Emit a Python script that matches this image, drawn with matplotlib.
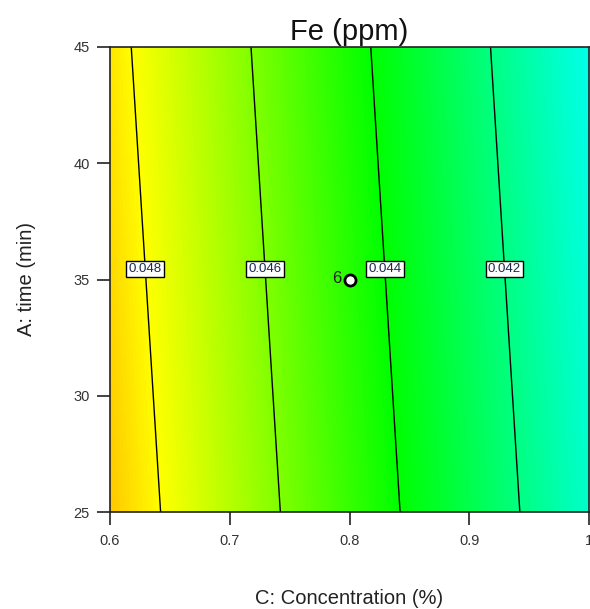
import numpy as np
import matplotlib
matplotlib.use("Agg")
import matplotlib.pyplot as plt
from matplotlib.colors import LinearSegmentedColormap

plt.rcParams['font.family'] = ['Liberation Sans', 'DejaVu Sans']

# Fitted response model for Fe (ppm) in coded units:
# Fe = b0 + bA * A + bC * C, with A = (time - 35) / 10, C = (conc - 0.8) / 0.2
b0 = 0.04460
bA = -0.000245
bC = -0.0040

time_range = [25, 45]
conc_range = [0.6, 1.0]
contour_levels = [0.042, 0.044, 0.046, 0.048]
x_ticks = [0.6, 0.7, 0.8, 0.9, 1.0]
x_ticklabels = ['0.6', '0.7', '0.8', '0.9', '1']
y_ticks = [25, 30, 35, 40, 45]
design_point = (0.8, 35)
design_point_count = '6'
label_time = 35.45

# colour scale anchored on response values (blue low -> red high)
color_values = [0.036, 0.040, 0.044, 0.048, 0.052]
color_list = ['#0000ff', '#00ffff', '#00ff00', '#ffff00', '#ff0000']


def fe_model(conc, time):
    A = (time - 35.0) / 10.0
    C = (conc - 0.8) / 0.2
    return b0 + bA * A + bC * C


cmap = LinearSegmentedColormap.from_list(
    'rsm',
    [((v - color_values[0]) / (color_values[-1] - color_values[0]), c)
     for v, c in zip(color_values, color_list)])

fig = plt.figure(figsize=(5.9, 6.09), dpi=100)
ax = fig.add_axes([110 / 590, 1 - 512 / 609, 479 / 590, 465 / 609])

cx = np.linspace(conc_range[0], conc_range[1], 400)
ty = np.linspace(time_range[0], time_range[1], 200)
CX, TY = np.meshgrid(cx, ty)
Z = fe_model(CX, TY)

ax.imshow(Z, origin='lower', aspect='auto', cmap=cmap,
          vmin=color_values[0], vmax=color_values[-1],
          extent=[conc_range[0], conc_range[1], time_range[0], time_range[1]],
          interpolation='bilinear')
ax.contour(CX, TY, Z, levels=contour_levels, colors='black', linewidths=1.0)

# contour labels in white boxes
for lev in contour_levels:
    A = (label_time - 35.0) / 10.0
    Cc = (lev - b0 - bA * A) / bC
    xc = 0.8 + 0.2 * Cc
    ax.text(xc, label_time, f'{lev:.3f}', ha='center', va='center',
            fontsize=9.5, color='#1a2a4a', zorder=5,
            bbox=dict(boxstyle='square,pad=0.18', facecolor='white',
                      edgecolor='black', linewidth=1.0))

# design point (centre point replicates)
ax.plot(*design_point, marker='o', markersize=8, markerfacecolor='white',
        markeredgecolor='black', markeredgewidth=2.0, zorder=6)
ax.annotate(design_point_count, design_point, xytext=(-6, 1),
            textcoords='offset points', ha='right', va='center',
            fontsize=12, color='#202020')

ax.set_xlim(conc_range)
ax.set_ylim(time_range)
ax.set_xticks(x_ticks)
ax.set_xticklabels(x_ticklabels)
ax.set_yticks(y_ticks)
ax.tick_params(direction='out', length=9.5, width=1.2, color='#222222',
               labelsize=10.5, labelcolor='#333333')
ax.tick_params(axis='x', pad=6)
ax.tick_params(axis='y', pad=5)
for sp in ax.spines.values():
    sp.set_color('#222222')
    sp.set_linewidth(1.2)

ax.set_title('Fe (ppm)', fontsize=21, pad=5, color='#111111')
ax.set_xlabel('C: Concentration (%)', fontsize=14.5, labelpad=30, color='#222222')
ax.set_ylabel('A: time (min)', fontsize=14.5, labelpad=27, color='#222222')

fig.savefig('out.png', dpi=100)
